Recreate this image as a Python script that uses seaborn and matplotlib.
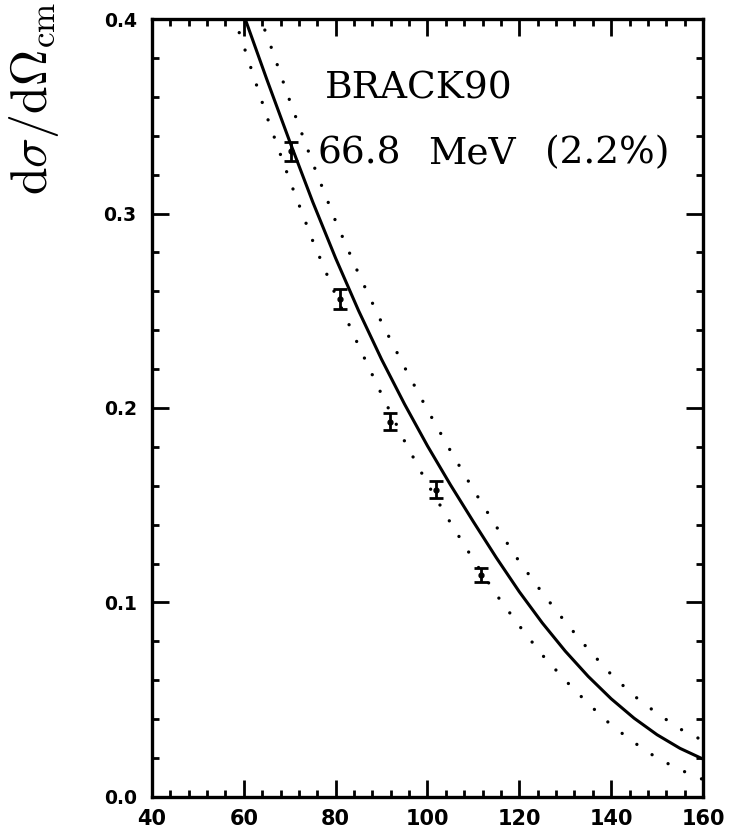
import numpy as np
import pandas as pd
import matplotlib
matplotlib.use("Agg")
import matplotlib.pyplot as plt
from matplotlib.ticker import MultipleLocator, FuncFormatter
import seaborn as sns

# ---- data ----
angle_pts = [70.2, 80.9, 91.8, 101.9, 111.7]
xsec_pts = [0.332, 0.256, 0.193, 0.158, 0.114]
xsec_err = [0.005, 0.005, 0.0045, 0.0045, 0.0035]

angle_solid = [60, 65, 70, 75, 80, 85, 90, 95, 100, 105, 110, 115, 120,
               125, 130, 135, 140, 145, 150, 155, 160]
xsec_solid = [0.402, 0.369, 0.337, 0.306, 0.277, 0.250, 0.225, 0.202, 0.1805,
              0.1605, 0.1415, 0.123, 0.1055, 0.0895, 0.075, 0.062, 0.0505,
              0.0405, 0.032, 0.025, 0.0195]

angle_upper = [63, 65, 70, 75, 80, 85, 90, 95, 100, 105, 110, 115, 120,
               125, 130, 135, 140, 145, 150, 155, 160]
xsec_upper = [0.403, 0.392, 0.358, 0.326, 0.296, 0.269, 0.244, 0.221, 0.199,
              0.178, 0.158, 0.139, 0.121, 0.105, 0.090, 0.076, 0.063, 0.052,
              0.043, 0.035, 0.029]

angle_lower = [59, 60, 65, 70, 75, 80, 85, 90, 95, 100, 105, 110, 115, 120,
               125, 130, 135, 140, 145, 150, 155, 160]
xsec_lower = [0.393, 0.386, 0.350, 0.317, 0.286, 0.258, 0.232, 0.207, 0.183,
              0.161, 0.141, 0.122, 0.104, 0.088, 0.073, 0.060, 0.048, 0.037,
              0.028, 0.020, 0.014, 0.009]

x_major = [40, 60, 80, 100, 120, 140, 160]
y_major = [0.0, 0.1, 0.2, 0.3, 0.4]
label_title = "BRACK90"
label_energy_words = ["66.8", "MeV", "(2.2%)"]

# ---- plot ----
sns.set_theme(style="ticks")
plt.rcParams["mathtext.fontset"] = "cm"
plt.rcParams["font.family"] = ["DejaVu Sans"]
for k in ("text.color", "axes.labelcolor", "xtick.color", "ytick.color",
          "axes.edgecolor"):
    plt.rcParams[k] = "black"

fig = plt.figure(figsize=(7.29, 8.34), dpi=100)
ax = fig.add_axes([0.2085, 0.0444, 0.7558, 0.9328])

df_solid = pd.DataFrame({"angle": angle_solid, "xsec": xsec_solid})
df_up = pd.DataFrame({"angle": angle_upper, "xsec": xsec_upper})
df_lo = pd.DataFrame({"angle": angle_lower, "xsec": xsec_lower})

sns.lineplot(data=df_solid, x="angle", y="xsec", ax=ax, color="black",
             linewidth=2.2, sort=True)
for d in (df_up, df_lo):
    sns.lineplot(data=d, x="angle", y="xsec", ax=ax, color="black",
                 linewidth=2.4, linestyle=(0, (0.01, 5.5)),
                 dash_capstyle="round", sort=True)

ax.errorbar(angle_pts, xsec_pts, yerr=xsec_err, fmt="o", color="black",
            markersize=3.5, elinewidth=2.0, capsize=5, capthick=2.0)

ax.set_xlim(40, 160)
ax.set_ylim(0.0, 0.4)
ax.set_xlabel("")
ax.set_ylabel("")

ax.set_xticks(x_major)
ax.set_yticks(y_major)
ax.xaxis.set_minor_locator(MultipleLocator(4))
ax.yaxis.set_minor_locator(MultipleLocator(0.02))
ax.xaxis.set_major_formatter(FuncFormatter(lambda v, p: f"{v:.0f}"))
ax.yaxis.set_major_formatter(FuncFormatter(lambda v, p: f"{v:.1f}"))

ax.tick_params(which="both", direction="in", top=True, right=True,
               color="black", width=2.0)
ax.tick_params(which="major", length=12)
ax.tick_params(which="minor", length=5)
ax.tick_params(axis="x", which="major", labelsize=15, pad=9)
ax.tick_params(axis="y", which="major", labelsize=13.5, pad=11)
for lab in ax.get_xticklabels() + ax.get_yticklabels():
    lab.set_fontweight("bold")

for s in ax.spines.values():
    s.set_visible(True)
    s.set_linewidth(2.4)
    s.set_color("black")

def px_to_axes(px, py):
    # convert reference pixel coordinates to axes fraction
    x0, x1, y0, y1 = 152, 703, 19, 797
    return (px - x0) / (x1 - x0), (y1 - py) / (y1 - y0)

tx, ty = px_to_axes(325, 88)
ax.text(tx, ty, label_title, transform=ax.transAxes, fontsize=27,
        family="DejaVu Serif", ha="left", va="center", color="black")
for word, px in zip(label_energy_words, [318, 428, 545]):
    tx, ty = px_to_axes(px, 153)
    ax.text(tx, ty, word, transform=ax.transAxes, fontsize=27,
            family="DejaVu Serif", ha="left", va="center", color="black")

fig.text(0.046, 1 - 195 / 834, r"$\mathrm{d}\sigma/\mathrm{d}\Omega_{\mathrm{cm}}$",
         rotation=90, fontsize=36, ha="center", va="bottom", color="black")

fig.savefig("out.png", dpi=100)
